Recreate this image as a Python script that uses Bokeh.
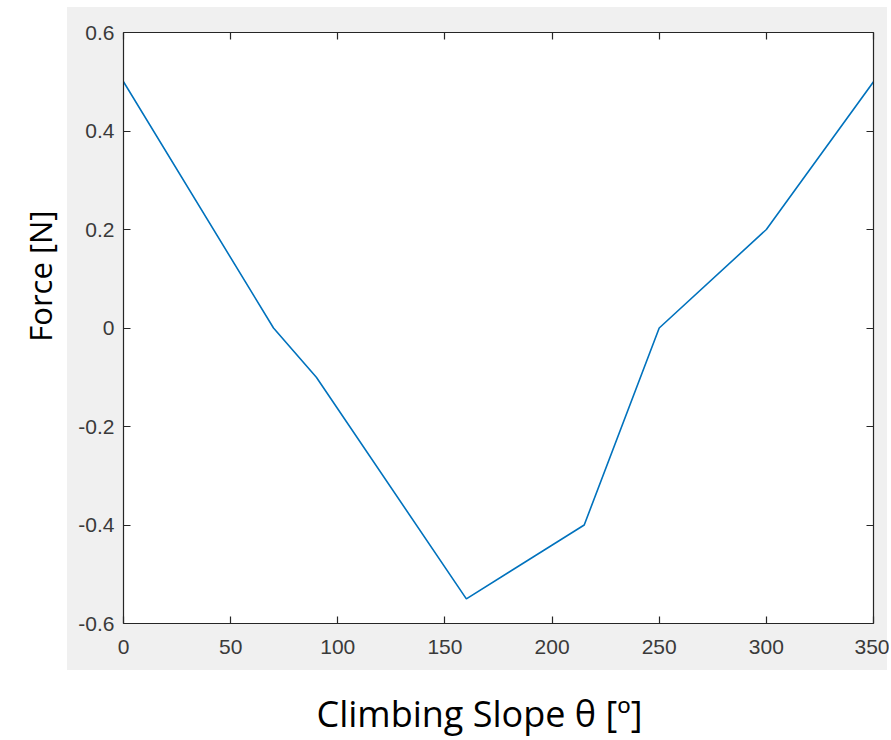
from bokeh.plotting import figure
from bokeh.models import Range1d, LinearAxis, FixedTicker, Title
from bokeh.embed import file_html
from bokeh.resources import INLINE

# data
angle = [0, 70, 90, 160, 215, 250, 300, 350]
force = [0.5, 0.0, -0.1, -0.55, -0.4, 0.0, 0.2, 0.5]
x_ticks = [0, 50, 100, 150, 200, 250, 300, 350]
x_tick_labels = ["0", "50", "100", "150", "200", "250", "300", "350"]
y_ticks = [-0.6, -0.4, -0.2, 0, 0.2, 0.4, 0.6]
y_tick_labels = ["-0.6", "-0.4", "-0.2", "0", "0.2", "0.4", "0.6"]
x_label = "Climbing Slope θ [º]"
y_label = "Force [N]"

W, H = 889, 740
p = figure(width=W, height=H, output_backend="svg", toolbar_location=None,
           x_range=Range1d(0, 350), y_range=Range1d(-0.6, 0.6),
           x_axis_type=None, y_axis_type=None,
           min_border_left=123, min_border_top=32, min_border_right=16,
           min_border_bottom=117)
# grey figure panel (MATLAB style) behind the axes, white elsewhere
p.border_fill_color = None
p.styles = {"background": "linear-gradient(#f0f0f0, #f0f0f0) 67px 7px / 820px 663px no-repeat, white"}
p.background_fill_color = "white"
p.outline_line_color = None

AX = "#262626"
TICK_FONT = "Liberation Sans"

def style_axis(ax, standoff):
    ax.axis_line_color = AX
    ax.axis_line_width = 1.2
    ax.major_tick_line_color = AX
    ax.major_tick_line_width = 1.2
    ax.major_tick_in = 7
    ax.major_tick_out = 0
    ax.minor_tick_line_color = None
    ax.major_label_standoff = standoff
    ax.major_label_text_font = TICK_FONT
    ax.major_label_text_color = "#3a3a3a"
    ax.major_label_text_font_size = "21px"

xb = LinearAxis(ticker=FixedTicker(ticks=x_ticks))
xb.major_label_overrides = {v: s for v, s in zip(x_ticks, x_tick_labels)}
style_axis(xb, 16)
p.add_layout(xb, "below")
xt = LinearAxis(ticker=FixedTicker(ticks=x_ticks))
style_axis(xt, 0)
xt.major_label_overrides = {v: "" for v in x_ticks}
p.add_layout(xt, "above")

yl = LinearAxis(ticker=FixedTicker(ticks=y_ticks))
yl.major_label_overrides = {v: s for v, s in zip(y_ticks, y_tick_labels)}
style_axis(yl, 9)
p.add_layout(yl, "left")
yr = LinearAxis(ticker=FixedTicker(ticks=y_ticks))
style_axis(yr, 0)
yr.major_label_overrides = {v: "" for v in y_ticks}
p.add_layout(yr, "right")

# invisible spacer between the tick labels and the x-axis title
spacer = LinearAxis(ticker=FixedTicker(ticks=[x_ticks[0]]), axis_line_color=None,
                    major_tick_out=30, major_tick_in=0, major_label_standoff=0,
                    minor_tick_line_color=None, major_tick_line_color=None,
                    major_label_text_font_size="1px")
spacer.major_label_overrides = {x_ticks[0]: ""}
p.add_layout(spacer, "below")

p.line(angle, force, line_color="#0072BD", line_width=1.6)

tx = Title(text=x_label, align="left", offset=193, standoff=0,
           text_font="Open Sans", text_font_size="36px", text_font_style="normal",
           text_color="black")
p.add_layout(tx, "below")
ty = Title(text=y_label, align="right", offset=178, standoff=29,
           text_font="Open Sans", text_font_size="31px", text_font_style="normal",
           text_color="black")
p.add_layout(ty, "left")

open("out.html", "w").write(file_html(p, INLINE))
